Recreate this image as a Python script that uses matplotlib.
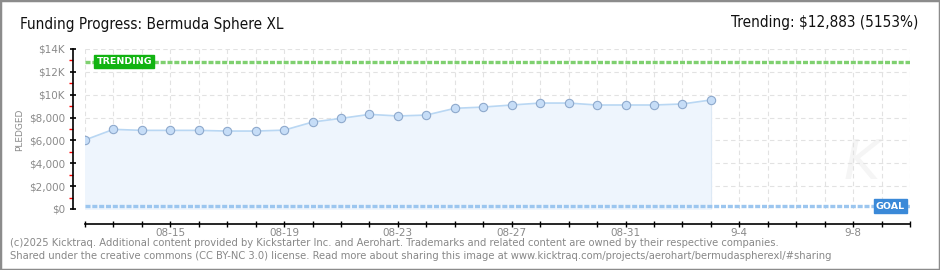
import matplotlib

matplotlib.use("Agg")
import matplotlib.pyplot as plt
from matplotlib.patches import Rectangle
from matplotlib.ticker import FixedLocator, MultipleLocator

# ---- data ----
days = list(range(23))  # 08-12 .. 09-03
pledged = [6040, 6970, 6880, 6880, 6880, 6820, 6820, 6900, 7610, 7930, 8280, 8140,
           8220, 8810, 8920, 9100, 9270, 9270, 9100, 9100, 9100, 9190, 9540]
trending = 12883
goal = 250
tick_days = [3, 7, 11, 15, 19, 23, 27]
tick_labels = ["08-15", "08-19", "08-23", "08-27", "08-31", "9-4", "9-8"]
ytick_vals = [0, 2000, 4000, 6000, 8000, 10000, 12000, 14000]
ytick_labels = ["$0", "$2,000", "$4,000", "$6,000", "$8,000", "$10K", "$12K", "$14K"]
x_end = 29

W, H = 940, 270
fig = plt.figure(figsize=(W / 100, H / 100), dpi=100)
fig.patch.set_facecolor("white")
ax = fig.add_axes([85 / W, 1 - 209 / H, 825 / W, 160 / H])

grey = "#8a8a8a"
line_blue = "#b9d7f3"

ax.fill_between(days, pledged, 0, color="#eef5fd", zorder=1)
ax.plot([days[-1], days[-1]], [0, pledged[-1]], color="#dde9f5", lw=0.8, zorder=1)
ax.plot(days, pledged, color=line_blue, lw=1.2, zorder=3)
ax.plot(days, pledged, "o", ms=6, mfc="#c6ddf7", mec="#8ea9cc", mew=0.8, zorder=4)

# trending and goal lines (square-dotted)
ax.axhline(trending, color="#7fd070", lw=2.4, ls=(0, (1.5, 0.55)), zorder=2)
ax.axhline(goal, color="#9cc6ef", lw=2.4, ls=(0, (1.5, 0.55)), zorder=2)
ax.text(0.4, trending, "TRENDING", color="white", fontsize=6.8, fontweight="bold",
        va="center", ha="left", zorder=5,
        bbox=dict(boxstyle="square,pad=0.22", fc="#12b312", ec="#12b312"))
ax.text(27.8, goal, "GOAL", color="white", fontsize=6.8, fontweight="bold",
        va="center", ha="left", zorder=5,
        bbox=dict(boxstyle="square,pad=0.25", fc="#3a89d8", ec="#3a89d8"))

# faint watermark
ax.text(27.3, 4000, "K", fontsize=40, style="italic", color="#f5f5f5",
        ha="center", va="center", zorder=0)

ax.set_xlim(0, x_end)
ax.set_ylim(0, 14000)

# grid
for d in range(x_end + 1):
    ax.axvline(d, color="#e2e2e2", lw=0.8, ls=(0, (4, 3)), zorder=0)
for v in ytick_vals[1:]:
    ax.axhline(v, color="#e2e2e2", lw=0.8, ls=(0, (4, 3)), zorder=0)

# axes styling
for s in ("top", "right"):
    ax.spines[s].set_visible(False)
ax.spines["left"].set_position(("outward", 9))
ax.spines["bottom"].set_position(("outward", 11))
ax.spines["left"].set_linewidth(1.2)
ax.spines["bottom"].set_linewidth(1.2)

ax.yaxis.set_major_locator(FixedLocator(ytick_vals))
ax.set_yticklabels(ytick_labels)
ax.yaxis.set_minor_locator(FixedLocator([1000, 3000, 5000, 7000, 9000, 11000, 13000]))
ax.tick_params(axis="y", which="major", length=5, width=1.2, direction="inout",
               labelsize=7.5, labelcolor=grey, pad=3)
ax.tick_params(axis="y", which="minor", length=3, width=1, color="red", direction="out")

ax.xaxis.set_minor_locator(MultipleLocator(1))
ax.xaxis.set_major_locator(FixedLocator(tick_days))
ax.set_xticklabels(tick_labels)
ax.tick_params(axis="x", which="both", length=5, width=1, direction="inout",
               labelsize=7.5, labelcolor=grey, pad=0.5)

fig.text(20 / W, 1 - 130 / H, "PLEDGED", rotation=90, color=grey, fontsize=6.5,
         ha="center", va="center")

# titles
fig.text(20 / W, 1 - 24 / H, "Funding Progress: Bermuda Sphere XL", fontsize=11,
         fontstretch="condensed", color="#111111", ha="left", va="center")
fig.text(918 / W, 1 - 22 / H, "Trending: $12,883 (5153%)", fontsize=11,
         fontstretch="condensed", color="#111111", ha="right", va="center")

# footer
foot = ("(c)2025 Kicktraq. Additional content provided by Kickstarter Inc. and Aerohart. "
        "Trademarks and related content are owned by their respective companies.\n"
        "Shared under the creative commons (CC BY-NC 3.0) license. Read more about sharing "
        "this image at www.kicktraq.com/projects/aerohart/bermudaspherexl/#sharing")
fig.text(10 / W, 1 - 249.5 / H, foot, fontsize=7.2, color="#888888", ha="left",
         va="center", linespacing=1.3)

# outer frame
fig.patches.append(Rectangle((0, 0), 1, 1, transform=fig.transFigure, fill=False,
                             ec="#8c8c8c", lw=2.5))

fig.savefig("out.png", dpi=100, facecolor="white")
